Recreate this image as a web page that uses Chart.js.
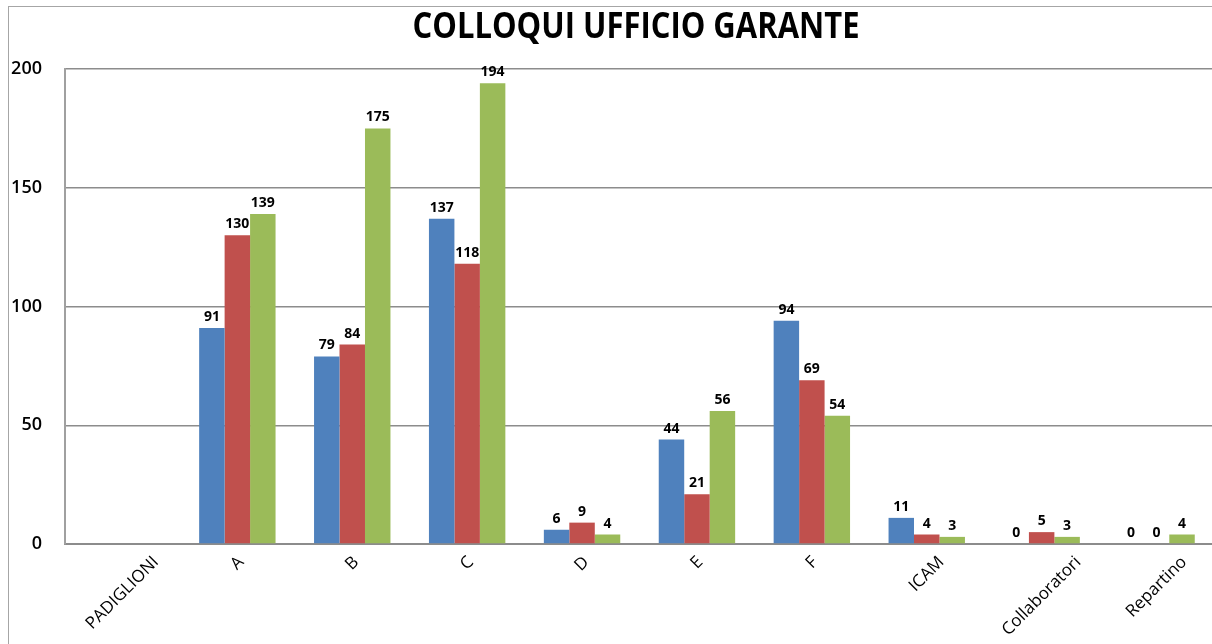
<!DOCTYPE html>
<html>
<head>
<meta charset="utf-8">
<title>Colloqui Ufficio Garante</title>
<script src="https://cdn.jsdelivr.net/npm/chart.js@4.4.0/dist/chart.umd.min.js"></script>
<style>
  html, body { margin: 0; padding: 0; background: #fff; overflow: hidden; }
  #wrap { position: relative; width: 1272px; height: 700px; }
  #frame { position: absolute; left: 8px; top: 6px; width: 1254px; height: 690px; border: 1px solid #a6a6a6; pointer-events: none; }
</style>
</head>
<body>
<div id="wrap">
  <canvas id="chart" width="1272" height="700"></canvas>
  <div id="frame"></div>
</div>
<script>
// dati
const chartTitle = 'COLLOQUI UFFICIO GARANTE';
const categories = ['PADIGLIONI', 'A', 'B', 'C', 'D', 'E', 'F', 'ICAM', 'Collaboratori', 'Repartino'];
const serie1 = [null, 91, 79, 137, 6, 44, 94, 11, 0, 0];
const serie2 = [null, 130, 84, 118, 9, 21, 69, 4, 5, 0];
const serie3 = [null, 139, 175, 194, 4, 56, 54, 3, 3, 4];
const yTicks = [0, 50, 100, 150, 200];

// etichette dei valori sopra le barre
const valueLabels = {
    id: 'valueLabels',
    afterDatasetsDraw(chart) {
        const ctx = chart.ctx;
        ctx.save();
        ctx.font = 'bold 14px "Open Sans"';
        ctx.fillStyle = '#000';
        ctx.textAlign = 'center';
        ctx.textBaseline = 'alphabetic';
        chart.data.datasets.forEach((ds, i) => {
            chart.getDatasetMeta(i).data.forEach((bar, j) => {
                const v = ds.data[j];
                if (v === null) return;
                ctx.fillText(String(v), bar.x, bar.y - 7);
            });
        });
        ctx.restore();
    }
};

// etichette asse x inclinate, centrate sotto la categoria (come Excel)
const slantLabels = {
    id: 'slantLabels',
    afterDraw(chart) {
        const scale = chart.scales.x;
        const ctx = chart.ctx;
        const size = 17;
        ctx.save();
        ctx.font = size + 'px "Open Sans"';
        ctx.fillStyle = '#000';
        ctx.textAlign = 'center';
        ctx.textBaseline = 'middle';
        chart.data.labels.forEach((lab, i) => {
            const w = ctx.measureText(lab).width;
            const half = (w + size * 0.75) * Math.SQRT1_2 / 2;
            const x = scale.getPixelForTick(i);
            const y = scale.top + 11 + half;
            ctx.save();
            ctx.translate(x, y);
            ctx.rotate(-Math.PI / 4);
            ctx.fillText(lab, 0, 0);
            ctx.restore();
        });
        ctx.restore();
    }
};

// titolo
const titleText = {
    id: 'titleText',
    afterDraw(chart) {
        const ctx = chart.ctx;
        ctx.save();
        ctx.font = 'bold 36px "Open Sans"';
        const w = ctx.measureText(chartTitle).width;
        ctx.translate(636, 28);
        ctx.scale(Math.min(1, 447 / w), 1);
        ctx.textAlign = 'center';
        ctx.textBaseline = 'middle';
        ctx.fillStyle = '#000';
        ctx.fillText(chartTitle, 0, 0);
        ctx.restore();
    }
};

new Chart(document.getElementById('chart'), {
    type: 'bar',
    data: {
        labels: categories,
        datasets: [
            { label: 'Serie 1', data: serie1, backgroundColor: '#4f81bd' },
            { label: 'Serie 2', data: serie2, backgroundColor: '#c0504d' },
            { label: 'Serie 3', data: serie3, backgroundColor: '#9bbb59' }
        ]
    },
    options: {
        responsive: false,
        animation: false,
        layout: { padding: { top: 69, right: 58, bottom: 0, left: 0 } },
        datasets: { bar: { barPercentage: 1, categoryPercentage: 0.665 } },
        plugins: {
            legend: { display: false },
            title: { display: false },
            tooltip: { enabled: false }
        },
        scales: {
            x: {
                grid: { display: false },
                border: { color: '#8c8c8c', width: 2 },
                ticks: { display: false },
                afterFit(s) { s.height = 156; }
            },
            y: {
                min: 0,
                max: 200,
                afterBuildTicks(s) { s.ticks = yTicks.map(v => ({ value: v })); },
                grid: { color: '#8c8c8c', lineWidth: 1.5, drawTicks: false },
                border: { color: '#a0a0a0', width: 2 },
                ticks: { padding: 23, color: '#000', font: { family: 'Open Sans', size: 18, weight: '600' } },
                afterFit(s) { s.width = 65; }
            }
        }
    },
    plugins: [valueLabels, slantLabels, titleText]
});
</script>
</body>
</html>
